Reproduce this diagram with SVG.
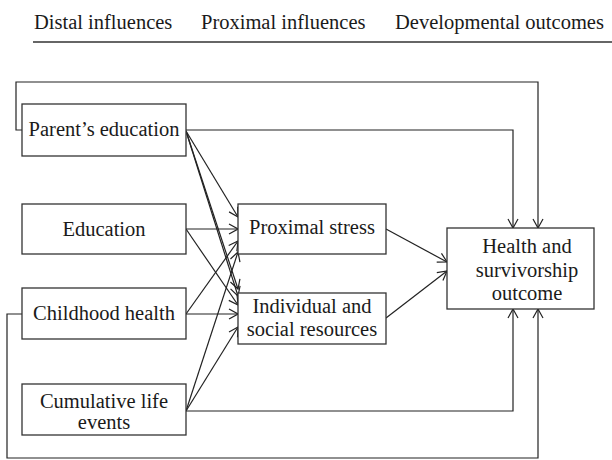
<svg xmlns="http://www.w3.org/2000/svg" width="612" height="460" viewBox="0 0 612 460">
<style>
.box{fill:#fff;stroke:#333;stroke-width:1.3}
.t{font-family:"Liberation Serif","Times New Roman",serif;font-size:20.5px;fill:#1a1a1a;text-anchor:middle}
.h{font-family:"Liberation Serif","Times New Roman",serif;font-size:20.5px;fill:#1a1a1a}
.c{fill:none;stroke:#222;stroke-width:1.2}
</style>
<defs>
<marker id="a" markerUnits="userSpaceOnUse" markerWidth="12" markerHeight="12" viewBox="-11 -6 12 12" refX="0" refY="0" orient="auto">
<path d="M-9,-5 L0,0 L-9,5" fill="none" stroke="#222" stroke-width="1.2"/>
</marker>
</defs>
<g id="header">
<text class="h" x="34" y="29">Distal influences</text>
<text class="h" x="201" y="29">Proximal influences</text>
<text class="h" x="395" y="29">Developmental outcomes</text>
<line x1="33" y1="42" x2="612" y2="42" stroke="#333" stroke-width="1.6"/>
</g>
<g id="connectors">
<path class="c" d="M22,130 H16 V82 H538 V228" marker-end="url(#a)"/>
<path class="c" d="M186,130 H513 V228" marker-end="url(#a)"/>
<path class="c" d="M186,131 L238,217" marker-end="url(#a)"/>
<path class="c" d="M186,131 L238,289" marker-end="url(#a)"/>
<path class="c" d="M186,131 L238,296" marker-end="url(#a)"/>
<path class="c" d="M186,229 H238" marker-end="url(#a)"/>
<path class="c" d="M186,229 L238,305" marker-end="url(#a)"/>
<path class="c" d="M186,314 L238,241" marker-end="url(#a)"/>
<path class="c" d="M186,314 H238" marker-end="url(#a)"/>
<path class="c" d="M22,314 H7 V458 H538 V309" marker-end="url(#a)"/>
<path class="c" d="M186,411 L238,252" marker-end="url(#a)"/>
<path class="c" d="M186,411 L238,327" marker-end="url(#a)"/>
<path class="c" d="M186,411 H513 V309" marker-end="url(#a)"/>
<path class="c" d="M386,229 L447,262" marker-end="url(#a)"/>
<path class="c" d="M386,318 L447,271" marker-end="url(#a)"/>
</g>
<g id="parents-education">
<rect class="box" x="22" y="104" width="164" height="52"/>
<text class="t" x="104" y="136">Parent’s education</text>
</g>
<g id="education">
<rect class="box" x="22" y="204" width="164" height="50"/>
<text class="t" x="104" y="236">Education</text>
</g>
<g id="childhood-health">
<rect class="box" x="22" y="288" width="164" height="51"/>
<text class="t" x="104" y="320">Childhood health</text>
</g>
<g id="cumulative-life-events">
<rect class="box" x="22" y="384" width="164" height="51"/>
<text class="t" x="104" y="408">Cumulative life</text>
<text class="t" x="104" y="429">events</text>
</g>
<g id="proximal-stress">
<rect class="box" x="238" y="204" width="148" height="50"/>
<text class="t" x="312" y="234">Proximal stress</text>
</g>
<g id="individual-social-resources">
<rect class="box" x="238" y="293" width="148" height="51"/>
<text class="t" x="312" y="313">Individual and</text>
<text class="t" x="312" y="336">social resources</text>
</g>
<g id="health-outcome">
<rect class="box" x="447" y="228" width="147" height="81"/>
<text class="t" x="527" y="253">Health and</text>
<text class="t" x="527" y="277">survivorship</text>
<text class="t" x="527" y="300">outcome</text>
</g>
</svg>
